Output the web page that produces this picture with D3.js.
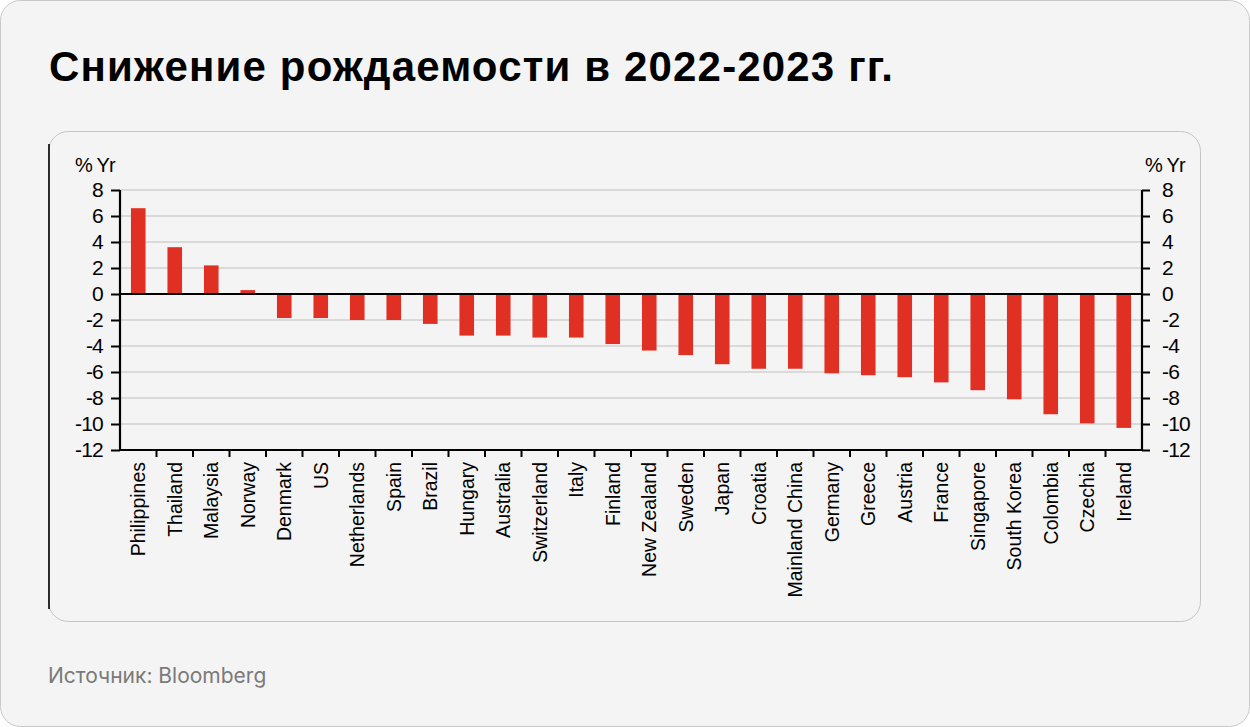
<!DOCTYPE html>
<html>
<head>
<meta charset="utf-8">
<script src="https://cdn.jsdelivr.net/npm/d3@7"></script>
<style>
  html, body { margin: 0; padding: 0; background: #ffffff; }
  svg { display: block; }
</style>
</head>
<body>
<svg id="chart" width="1250" height="727"></svg>
<script>
const titleText = "Снижение рождаемости в 2022-2023 гг.";
const sourceText = "Источник: Bloomberg";
const unitLabel = "% Yr";

const countries = ["Philippines","Thailand","Malaysia","Norway","Denmark","US","Netherlands","Spain","Brazil","Hungary","Australia","Switzerland","Italy","Finland","New Zealand","Sweden","Japan","Croatia","Mainland China","Germany","Greece","Austria","France","Singapore","South Korea","Colombia","Czechia","Ireland"];
const values = [6.6, 3.6, 2.2, 0.3, -1.85, -1.85, -2.0, -2.0, -2.3, -3.2, -3.2, -3.35, -3.35, -3.85, -4.35, -4.7, -5.4, -5.75, -5.75, -6.1, -6.25, -6.4, -6.8, -7.4, -8.1, -9.25, -9.95, -10.3];
const yTicks = [8, 6, 4, 2, 0, -2, -4, -6, -8, -10, -12];

const svg = d3.select("#chart");

// outer card
svg.append("rect").attr("x", 0.5).attr("y", 0.5).attr("width", 1249).attr("height", 726)
  .attr("rx", 20).attr("fill", "#f4f4f4").attr("stroke", "#c9c9c9").attr("stroke-width", 1);

// title
svg.append("text").attr("x", 49).attr("y", 81).text(titleText)
  .attr("font-family", "'Liberation Sans', Arial, sans-serif").attr("font-weight", 700)
  .attr("font-size", 42).attr("fill", "#000")
  .attr("textLength", 844).attr("lengthAdjust", "spacing");

// inner card
svg.append("rect").attr("x", 48.5).attr("y", 131.5).attr("width", 1152).attr("height", 490)
  .attr("rx", 20).attr("fill", "#f4f4f4").attr("stroke", "#c4c4c4").attr("stroke-width", 1);
svg.append("line").attr("x1", 49).attr("x2", 49).attr("y1", 144).attr("y2", 609)
  .attr("stroke", "#000").attr("stroke-width", 1.6);

// source
svg.append("text").attr("x", 48).attr("y", 683).text(sourceText)
  .attr("font-family", "Inter, 'Noto Sans', sans-serif").attr("font-size", 21)
  .attr("fill", "#7a7a7a");

const pLeft = 120, pRight = 1142, pTop = 190, pBottom = 450;
const x = d3.scaleBand().domain(countries).range([pLeft, pRight]).paddingInner(0.6).paddingOuter(0.3);
const y = d3.scaleLinear().domain([-12, 8]).range([pBottom, pTop]);

const fontChart = "'Liberation Sans', Arial, sans-serif";
const g = svg.append("g");

// gridlines
g.selectAll("line.grid").data(yTicks.filter(d => d !== 0 && d !== -12)).join("line")
  .attr("class", "grid")
  .attr("x1", pLeft).attr("x2", pRight)
  .attr("y1", d => y(d)).attr("y2", d => y(d))
  .attr("stroke", "#dadada").attr("stroke-width", 2);

// bars
g.selectAll("rect.bar").data(countries).join("rect")
  .attr("class", "bar")
  .attr("x", d => x(d))
  .attr("width", x.bandwidth())
  .attr("y", (d, i) => y(Math.max(0, values[i])))
  .attr("height", (d, i) => Math.abs(y(values[i]) - y(0)))
  .attr("fill", "#e03024");

// zero line
g.append("line").attr("x1", pLeft).attr("x2", pRight).attr("y1", y(0)).attr("y2", y(0))
  .attr("stroke", "#000").attr("stroke-width", 2);

// left axis
const leftAxis = d3.axisLeft(y).tickValues(yTicks).tickSize(9).tickPadding(8);
const la = svg.append("g").attr("transform", `translate(${pLeft},0)`).call(leftAxis);
// right axis
const rightAxis = d3.axisRight(y).tickValues(yTicks).tickSize(8).tickPadding(12);
const ra = svg.append("g").attr("transform", `translate(${pRight},0)`).call(rightAxis);

[la, ra].forEach(a => {
  a.select(".domain").attr("d", `M0,${pTop}V${pBottom}`).attr("stroke", "#000").attr("stroke-width", 2.2);
  a.selectAll(".tick line").attr("stroke", "#000").attr("stroke-width", 2);
  a.selectAll(".tick text").attr("font-family", fontChart).attr("font-size", 21)
    .attr("fill", "#000").attr("letter-spacing", "-0.8px")
    .text(d => d < 0 ? "-" + Math.abs(d) : String(d));
});

// bottom axis
const bottomAxis = d3.axisBottom(x).tickSize(0).tickPadding(0);
const ba = svg.append("g").attr("transform", `translate(0,${pBottom})`).call(bottomAxis);
ba.select(".domain").attr("d", `M${pLeft},0H${pRight}`).attr("stroke", "#000").attr("stroke-width", 2.2);
ba.selectAll(".tick text")
  .attr("font-family", fontChart).attr("font-size", 19.5).attr("fill", "#000")
  .attr("text-anchor", "end")
  .attr("transform", "rotate(-90)")
  .attr("x", -12).attr("y", 0).attr("dy", "0.35em");
// boundary ticks between categories
const boundaries = d3.range(1, countries.length).map(i => x(countries[i]) - x.step() * x.paddingInner() / 2);
ba.selectAll("line.btick").data(boundaries).join("line").attr("class", "btick")
  .attr("x1", d => d).attr("x2", d => d).attr("y1", 0).attr("y2", 7)
  .attr("stroke", "#000").attr("stroke-width", 2);

// unit labels
svg.append("text").attr("x", 75).attr("y", 172).text(unitLabel)
  .attr("font-family", fontChart).attr("font-size", 20).attr("fill", "#000").attr("letter-spacing", "-0.8px");
svg.append("text").attr("x", 1145).attr("y", 172).text(unitLabel)
  .attr("font-family", fontChart).attr("font-size", 20).attr("fill", "#000").attr("letter-spacing", "-0.8px");
</script>
</body>
</html>
